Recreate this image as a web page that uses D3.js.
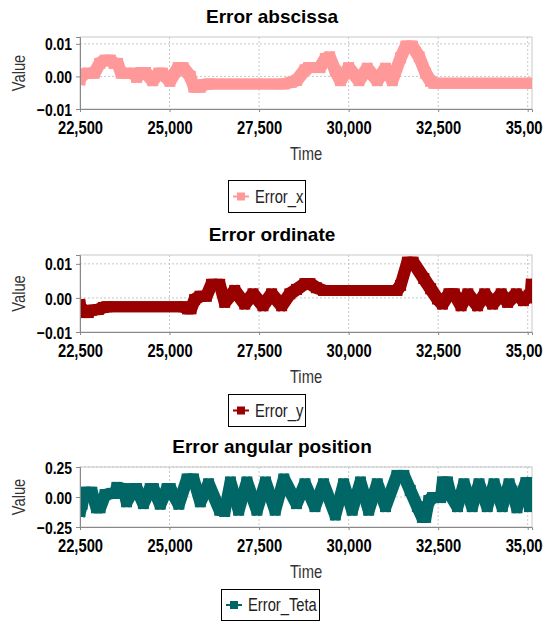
<!DOCTYPE html>
<html>
<head>
<meta charset="utf-8">
<script src="https://cdn.jsdelivr.net/npm/d3@7"></script>
<style>
  body { margin: 0; background: #fff; }
  svg { display: block; font-family: "Liberation Sans", Arial, sans-serif; }
  .tick text { font-weight: bold; fill: #000; }
</style>
</head>
<body>
<div class="chart-container"></div>
<script>
var width = 551;
var height = 622;
var squeeze = 0.82; // text in the original looks horizontally narrowed

// Time axis ticks, shared by all three charts
var timeTicks = [22500, 25000, 27500, 30000, 32500, 35000];

// Error abscissa
var timeX = [22500, 22550, 22700, 22900, 23050, 23200, 23350, 23450, 23550, 23650, 24000, 24080,
  24200, 24330, 24530, 24700, 24800, 25010, 25240, 25380, 25580, 25680, 25860, 25950, 26090,
  28200, 28400, 28550, 28780, 28880, 29200, 29350, 29470, 29630, 29770, 30000, 30290, 30520,
  30800, 31030, 31220, 31450, 31600, 31780, 31970, 32150, 32290, 32380, 35120];
var errorX = [-0.001, 0.0005, 0.001, 0.001, 0.004, 0.005, 0.005, 0.004, 0.004, 0.001, 0.001, -0.0003,
  0.0012, 0.0012, -0.0013, 0.001, 0.001, -0.0015, 0.0027, 0.0027, 0.0, -0.0033, -0.0033, -0.0025, -0.0023,
  -0.0023, -0.0018, -0.0012, 0.002, 0.0027, 0.0027, 0.0055, 0.006, 0.0017, -0.0013, 0.0027, -0.0013, 0.0025,
  -0.0013, 0.0025, -0.0013, 0.0057, 0.0093, 0.0093, 0.006, 0.001, -0.0015, -0.0021, -0.0021];

// Error ordinate
var timeY = [22500, 22540, 22600, 22730, 22820, 23010, 23150, 23250, 25400, 25500, 25600, 25700,
  25850, 26030, 26170, 26400, 26540, 26820, 27100, 27330, 27610, 27850, 28130, 28360, 28546,
  28780, 28920, 29100, 29300, 31350, 31450, 31640, 31800, 32100, 32290, 32480, 32620, 32800,
  32950, 33140, 33330, 33600, 33800, 34020, 34260, 34440, 34680, 34880, 35040, 35070, 35100];
var errorY = [-0.002, -0.0035, -0.0043, -0.0043, -0.0036, -0.0034, -0.0028, -0.0026, -0.0026, -0.0032, -0.0032, -0.0005,
  0.0005, 0.0005, 0.004, 0.004, -0.0013, 0.0022, -0.0018, 0.0012, -0.0023, 0.0012, -0.0023, 0.0012, 0.0025,
  0.0042, 0.0042, 0.003, 0.0022, 0.0022, 0.0037, 0.0105, 0.0105, 0.0057, 0.0027, -0.0003, -0.0018, 0.0012,
  0.0012, -0.0023, 0.0012, -0.0023, 0.0012, -0.0018, 0.0012, -0.0013, 0.0012, -0.0008, 0.0008, 0.0, 0.004];

// Error angular position
var timeTeta = [22500, 22560, 22640, 22830, 22960, 23060, 23200, 23390, 23480, 23530, 23710, 23800,
  24000, 24080, 24270, 24460, 24550, 24740, 24930, 25020, 25260, 25490, 25670, 25860, 26090,
  26400, 26540, 26700, 26930, 27160, 27440, 27680, 27950, 28190, 28546, 28780, 29060, 29300,
  29630, 29860, 30100, 30330, 30560, 30800, 31030, 31350, 31540, 31720, 31920, 32060, 32150,
  32240, 32340, 32570, 32620, 32760, 32850, 33040, 33220, 33450, 33640, 33870, 34060, 34290,
  34480, 34560, 34700, 34950, 35050, 35110];
var errorTeta = [-0.12, -0.06, 0.04, 0.04, -0.09, -0.09, 0.02, 0.03, 0.03, 0.08, 0.07, -0.04,
  0.07, 0.07, -0.055, 0.07, 0.07, -0.06, 0.07, 0.07, -0.06, 0.15, 0.15, -0.04, 0.11,
  -0.11, -0.12, 0.125, -0.11, 0.125, -0.11, 0.125, -0.11, 0.15, -0.055, 0.11, -0.08, 0.11,
  -0.15, 0.11, -0.11, 0.125, -0.11, 0.11, -0.08, 0.18, 0.18, 0.055, -0.08, -0.17, -0.17,
  -0.03, -0.005, -0.005, 0.125, 0.125, 0.015, -0.08, 0.11, -0.08, 0.11, -0.08, 0.11, -0.08,
  0.11, 0.05, -0.09, 0.12, -0.08, 0.12];

var panels = [
  { title: 'Error abscissa', name: 'Error_x', color: '#ff9999', times: timeX, values: errorX,
    top: 37, bottom: 109, yDomain: [-0.01, 0.0121], yTicks: [-0.01, 0, 0.01],
    legend: { x: 228, y: 180, w: 77, h: 32 } },
  { title: 'Error ordinate', name: 'Error_y', color: '#990000', times: timeY, values: errorY,
    top: 255, bottom: 332, yDomain: [-0.01, 0.0126], yTicks: [-0.01, 0, 0.01],
    legend: { x: 228, y: 394, w: 77, h: 32 } },
  { title: 'Error angular position', name: 'Error_Teta', color: '#006666', times: timeTeta, values: errorTeta,
    top: 467, bottom: 527, yDomain: [-0.25, 0.25], yTicks: [-0.25, 0, 0.25],
    legend: { x: 221, y: 589, w: 98, h: 31 } }
];

var left = 80;
var right = 532;

// the series were drawn with square markers, so sweep a small square along the line
var brush = [[-2.5, -2.5], [2.5, -2.5], [-2.5, 2.5], [2.5, 2.5]];

var svg = d3.select('.chart-container')
  .append('svg')
  .attr('width', width)
  .attr('height', height);

// the rightmost tick label is cut off in the original picture
svg.append('clipPath')
  .attr('id', 'labelclip')
  .append('rect')
  .attr('x', 0).attr('y', 0)
  .attr('width', 543).attr('height', height);

var xScale = d3.scaleLinear()
  .domain([22500, 35120])
  .range([left, right]);

panels.forEach(function (p, k) {
  var yScale = d3.scaleLinear().domain(p.yDomain).range([p.bottom, p.top]);
  var g = svg.append('g');

  // title
  g.append('text')
    .attr('x', 272)
    .attr('y', p.top - 14)
    .attr('text-anchor', 'middle')
    .style('font-weight', 'bold')
    .style('font-size', '19px')
    .text(p.title);

  // plot frame
  g.append('rect')
    .attr('x', left)
    .attr('y', p.top)
    .attr('width', right - left)
    .attr('height', p.bottom - p.top)
    .attr('fill', '#fff')
    .attr('stroke', '#c8c8c8');

  // dotted grid
  g.selectAll('.vgrid')
    .data(timeTicks.slice(1))
    .enter()
    .append('line')
    .attr('x1', d => xScale(d)).attr('x2', d => xScale(d))
    .attr('y1', p.top).attr('y2', p.bottom)
    .attr('stroke', '#c8c8c8')
    .attr('stroke-dasharray', '2,2');

  g.selectAll('.hgrid')
    .data(p.yTicks.slice(1))
    .enter()
    .append('line')
    .attr('x1', left).attr('x2', right)
    .attr('y1', d => yScale(d)).attr('y2', d => yScale(d))
    .attr('stroke', '#c8c8c8')
    .attr('stroke-dasharray', '2,2');

  // series, clipped to the plot area
  var clipId = 'clip' + k;
  svg.append('clipPath')
    .attr('id', clipId)
    .append('rect')
    .attr('x', left)
    .attr('y', p.top)
    .attr('width', right - left)
    .attr('height', p.bottom - p.top);

  var points = p.times.map(function (t, i) { return [t, p.values[i]]; });
  var line = d3.line()
    .x(d => xScale(d[0]))
    .y(d => yScale(d[1]));

  var series = g.append('g').attr('clip-path', 'url(#' + clipId + ')');
  brush.forEach(function (o) {
    series.append('path')
      .datum(points)
      .attr('d', line)
      .attr('transform', 'translate(' + o[0] + ',' + o[1] + ')')
      .attr('fill', 'none')
      .attr('stroke', p.color)
      .attr('stroke-width', 6)
      .attr('stroke-linejoin', 'round')
      .attr('stroke-linecap', 'square');
  });

  series.selectAll('rect')
    .data(points)
    .enter()
    .append('rect')
    .attr('x', d => xScale(d[0]) - 5.5)
    .attr('y', d => yScale(d[1]) - 5.5)
    .attr('width', 11)
    .attr('height', 11)
    .attr('fill', p.color);

  // axes
  var yAxis = d3.axisLeft(yScale)
    .tickValues(p.yTicks)
    .tickFormat(d3.format('.2f'))
    .tickSizeOuter(0)
    .tickSize(4);

  g.append('g')
    .attr('transform', 'translate(' + left + ',0)')
    .call(yAxis)
    .call(a => a.select('.domain').attr('stroke', '#888'))
    .call(a => a.selectAll('.tick line').attr('stroke', '#888'))
    .call(a => a.selectAll('.tick text')
      .style('font-size', '17px')
      .attr('x', -8 / squeeze)
      .attr('dy', '0.36em')
      .attr('transform', 'scale(' + squeeze + ',1)'));

  var xAxis = d3.axisBottom(xScale)
    .tickValues(timeTicks)
    .tickFormat(d3.format(','))
    .tickSizeOuter(0)
    .tickSize(3);

  g.append('g')
    .attr('transform', 'translate(0,' + p.bottom + ')')
    .attr('clip-path', 'url(#labelclip)')
    .call(xAxis)
    .call(a => a.select('.domain').attr('stroke', '#888'))
    .call(a => a.selectAll('.tick line').attr('stroke', '#888'))
    .call(a => a.selectAll('.tick text')
      .style('font-size', '18px')
      .attr('y', 0)
      .attr('dy', 25)
      .attr('transform', 'scale(' + squeeze + ',1)'));

  // axis names
  g.append('text')
    .attr('transform', 'translate(25,' + (p.top + p.bottom) / 2 + ') rotate(-90) scale(' + squeeze + ',1)')
    .attr('text-anchor', 'middle')
    .style('font-size', '18px')
    .style('fill', '#333')
    .text('Value');

  g.append('text')
    .attr('transform', 'translate(306,' + (p.bottom + 51) + ') scale(' + squeeze + ',1)')
    .attr('text-anchor', 'middle')
    .style('font-size', '18px')
    .style('fill', '#333')
    .text('Time');

  // legend
  var lg = g.append('g').attr('transform', 'translate(' + p.legend.x + ',' + p.legend.y + ')');
  var mid = p.legend.h / 2;
  lg.append('rect')
    .attr('x', 0.5).attr('y', 0.5)
    .attr('width', p.legend.w).attr('height', p.legend.h)
    .attr('fill', '#fff')
    .attr('stroke', '#000');
  lg.append('line')
    .attr('x1', 5).attr('x2', 21)
    .attr('y1', mid + 0.5).attr('y2', mid + 0.5)
    .attr('stroke', p.color)
    .attr('stroke-width', 2);
  lg.append('rect')
    .attr('x', 9).attr('y', mid - 3.5)
    .attr('width', 8).attr('height', 8)
    .attr('fill', p.color);
  lg.append('text')
    .attr('transform', 'translate(27,' + (mid + 6.5) + ') scale(' + squeeze + ',1)')
    .style('font-size', '18px')
    .style('fill', '#222')
    .text(p.name);
});
</script>
</body>
</html>
